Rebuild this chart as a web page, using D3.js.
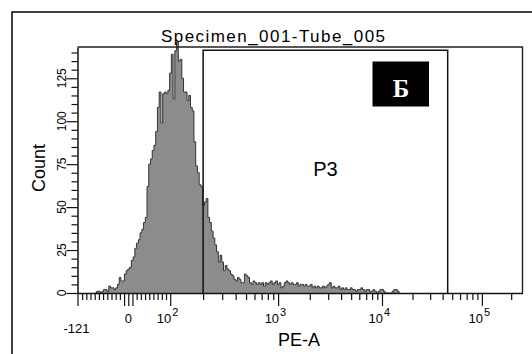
<!DOCTYPE html>
<html>
<head>
<meta charset="utf-8">
<script src="https://cdn.jsdelivr.net/npm/d3@7.9.0/dist/d3.min.js"></script>
<style>
  body { margin: 0; background: #fff; }
  svg { display: block; font-family: "Liberation Sans", Arial, sans-serif; }
</style>
</head>
<body>
<svg width="532" height="354"></svg>
<script>
// --- chart data ---
const title = 'Specimen_001-Tube_005';
const xLabel = 'PE-A';
const yLabel = 'Count';
const gateName = 'P3';
const panelLetter = 'Б';

const xMin = -121, xMax = 262144;   // PE-A display range
const yMax = 143.2;                 // Count display range
const binCount = 256;               // histogram channels
const firstBin = 11;                // channel of counts[0]
const counts = [
  1, 1, 0, 1, 2, 2, 1, 4, 3, 3, 2, 3, 5, 9, 7, 7, 11, 13, 14, 15,
  19, 21, 26, 29, 31, 35, 37, 41, 44, 62, 75, 78, 83, 86, 94, 108, 117, 99, 116, 117,
  116, 118, 128, 139, 113, 141, 146, 135, 136, 125, 117, 117, 112, 115, 108, 106, 88, 74, 70, 63,
  62, 51, 53, 55, 44, 41, 36, 32, 28, 24, 18, 22, 18, 13, 16, 14, 13, 11, 10, 8,
  7, 9, 8, 6, 6, 11, 10, 9, 6, 5, 7, 6, 5, 6, 5, 6, 4, 6, 5, 6,
  7, 5, 6, 7, 5, 6, 3, 4, 6, 7, 6, 5, 6, 5, 5, 6, 4, 5, 5, 4,
  5, 4, 4, 5, 3, 4, 3, 4, 3, 3, 4, 3, 4, 5, 6, 3, 4, 3, 3, 4,
  2, 3, 2, 3, 2, 2, 3, 2, 2, 1, 2, 2, 3, 2, 1, 2, 2, 1, 1, 2,
  1, 0, 1, 2, 2, 1, 0, 0, 0, 0, 1, 2, 2, 1
];

const xLabelTicks = [-121, 0, 100, 1000, 10000, 100000];
const xLongTicks = [-121, -10, 0, 10, 100, 1000, 10000, 100000];
const xShortTicks = [-110, -100, -90, -80, -70, -60, -50, -40, -30, -20,
  20, 30, 40, 50, 60, 70, 80, 90,
  200, 300, 400, 500, 600, 700, 800, 900,
  2000, 3000, 4000, 5000, 6000, 7000, 8000, 9000,
  20000, 30000, 40000, 50000, 60000, 70000, 80000, 90000, 200000];
const yLabelTicks = [0, 25, 50, 75, 100, 125];
const yShortTicks = [5, 10, 15, 20, 30, 35, 40, 45, 55, 60, 65, 70, 80, 85, 90, 95,
  105, 110, 115, 120, 130, 135, 140];

const gate = [200, 45000];
const gateTop = 141.3;

// --- biexponential-like display transform (linear near zero, log above) ---
const linLimit = 100, linSlope = 0.42, decade = 110, bend = 2;
function T(v) {
  if (v <= linLimit) return v * linSlope;
  const u = Math.log10(v / linLimit);
  return linLimit * linSlope + decade * u - bend * u * u;
}

const svg = d3.select('svg');
const plotL = 77.5, plotR = 522.5, plotT = 47, plotB = 293;

const x = d3.scaleLinear().domain([T(xMin), T(xMax)]).range([plotL, plotR]);
const y = d3.scaleLinear().domain([0, yMax]).range([plotB, plotT]);
const xv = v => x(T(v));

// outer panel frame
svg.append('rect')
  .attr('x', 12).attr('y', 12).attr('width', 560).attr('height', 380)
  .attr('fill', '#fff').attr('stroke', '#111').attr('stroke-width', 1.6);

// histogram
const tLo = T(xMin), binW = (T(xMax) - T(xMin)) / binCount;
const bins = [{ i: firstBin - 1, c: 0 }]
  .concat(counts.map((c, k) => ({ i: firstBin + k, c })))
  .concat([{ i: firstBin + counts.length, c: 0 }]);

const area = d3.area()
  .x(d => x(tLo + d.i * binW))
  .y0(y(0))
  .y1(d => y(d.c))
  .curve(d3.curveStepAfter);

const line = d3.line()
  .x(d => x(tLo + d.i * binW))
  .y(d => y(d.c))
  .curve(d3.curveStepAfter);

svg.append('path').datum(bins)
  .attr('d', area)
  .attr('fill', '#8c8c8c');
svg.append('path').datum(bins)
  .attr('d', line)
  .attr('fill', 'none').attr('stroke', '#333').attr('stroke-width', 1);

// plot frame (top and right)
svg.append('path')
  .attr('d', `M${plotL},${plotT}H${plotR}V${plotB}`)
  .attr('fill', 'none').attr('stroke', '#222').attr('stroke-width', 1.4);

// gate P3
svg.append('path')
  .attr('d', `M${xv(gate[0])},${plotB}V${y(gateTop)}H${xv(gate[1])}V${plotB}`)
  .attr('fill', 'none').attr('stroke', '#111').attr('stroke-width', 1.5);

svg.append('text')
  .attr('x', (xv(gate[0]) + xv(gate[1])) / 2)
  .attr('y', 176)
  .attr('text-anchor', 'middle')
  .attr('font-size', 20)
  .text(gateName);

// x axis
const xg = svg.append('g').attr('transform', `translate(0,${plotB})`);
xg.call(d3.axisBottom(x).tickValues(xShortTicks.map(T)).tickSize(7).tickSizeOuter(0).tickFormat(''));
xg.append('g').call(d3.axisBottom(x).tickValues(xLongTicks.map(T)).tickSize(13).tickFormat(''))
  .select('.domain').remove();
xg.selectAll('.domain').attr('stroke', '#111').attr('stroke-width', 1.5);
xg.selectAll('line').attr('stroke', '#111').attr('stroke-width', 1.2);

xLabelTicks.forEach(v => {
  const px = xv(v);
  if (v === -121) {
    svg.append('text').attr('x', px - 1).attr('y', 333).attr('text-anchor', 'middle')
      .attr('font-size', 13).text(String(v));
  } else if (v === 0) {
    svg.append('text').attr('x', px).attr('y', 323).attr('text-anchor', 'middle')
      .attr('font-size', 13).text('0');
  } else {
    const e = Math.round(Math.log10(v));
    svg.append('text').attr('x', px + 1).attr('y', 323).attr('text-anchor', 'end')
      .attr('font-size', 13).text('10');
    svg.append('text').attr('x', px + 2).attr('y', 316).attr('text-anchor', 'start')
      .attr('font-size', 11).text(String(e));
  }
});

// y axis
const yg = svg.append('g').attr('transform', `translate(${plotL},0)`);
yg.call(d3.axisLeft(y).tickValues(yShortTicks).tickSize(6).tickSizeOuter(0).tickFormat(''));
yg.append('g').call(d3.axisLeft(y).tickValues(yLabelTicks).tickSize(11).tickFormat(''))
  .select('.domain').remove();
yg.selectAll('.domain').attr('stroke', '#111').attr('stroke-width', 1.5);
yg.selectAll('line').attr('stroke', '#111').attr('stroke-width', 1.2);

yLabelTicks.forEach(v => {
  svg.append('text')
    .attr('transform', `translate(65.5,${y(v)}) rotate(-90)`)
    .attr('text-anchor', 'middle')
    .attr('font-size', 12)
    .text(String(v));
});

// titles
svg.append('text')
  .attr('x', 273).attr('y', 41.5)
  .attr('text-anchor', 'middle')
  .attr('font-size', 17)
  .attr('textLength', 224).attr('lengthAdjust', 'spacing')
  .text(title);

svg.append('text')
  .attr('x', 299).attr('y', 346)
  .attr('text-anchor', 'middle')
  .attr('font-size', 18)
  .text(xLabel);

svg.append('text')
  .attr('transform', `translate(45,168) rotate(-90)`)
  .attr('text-anchor', 'middle')
  .attr('font-size', 18)
  .text(yLabel);

// panel letter
svg.append('rect')
  .attr('x', 372.5).attr('y', 61.5).attr('width', 56.5).attr('height', 45)
  .attr('fill', '#000');
svg.append('text')
  .attr('x', 401).attr('y', 96.5)
  .attr('text-anchor', 'middle')
  .attr('font-family', '"Liberation Serif", "Times New Roman", serif')
  .attr('font-weight', 'bold')
  .attr('font-size', 25)
  .attr('fill', '#fff')
  .text(panelLetter);
</script>
</body>
</html>
